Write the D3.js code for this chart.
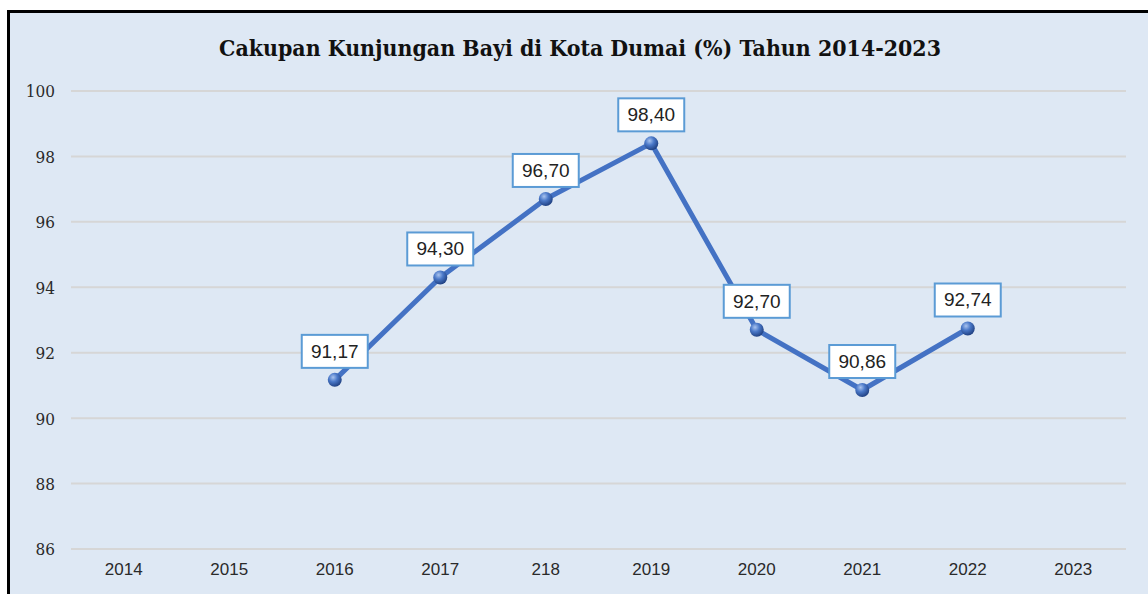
<!DOCTYPE html>
<html>
<head>
<meta charset="utf-8">
<script src="https://cdn.jsdelivr.net/npm/d3@7"></script>
<style>
  html, body { margin: 0; padding: 0; background: #ffffff; }
  svg { display: block; }
</style>
</head>
<body>
<svg id="chart" width="1148" height="594"></svg>
<script>
// Chart data
const years = ["2014", "2015", "2016", "2017", "218", "2019", "2020", "2021", "2022", "2023"];
const coverage = [null, null, 91.17, 94.30, 96.70, 98.40, 92.70, 90.86, 92.74, null];
const yTicks = [86, 88, 90, 92, 94, 96, 98, 100];
const title = "Cakupan Kunjungan Bayi di Kota Dumai (%) Tahun 2014-2023";

const W = 1148, H = 594;
const svg = d3.select("#chart");

// Gradient for the sphere-like markers
const defs = svg.append("defs");
const grad = defs.append("radialGradient")
  .attr("id", "ball").attr("cx", "38%").attr("cy", "32%").attr("r", "70%");
grad.append("stop").attr("offset", "0%").attr("stop-color", "#a9c3ee");
grad.append("stop").attr("offset", "45%").attr("stop-color", "#4a78c8");
grad.append("stop").attr("offset", "100%").attr("stop-color", "#1f3f80");

// Chart frame
svg.append("rect")
  .attr("x", 8.5).attr("y", 11.5)
  .attr("width", W + 20).attr("height", H + 20)
  .attr("fill", "#dee8f4")
  .attr("stroke", "#000").attr("stroke-width", 3);

svg.append("text")
  .attr("x", 580).attr("y", 56)
  .attr("text-anchor", "middle")
  .attr("font-family", "'DejaVu Serif Condensed', 'DejaVu Serif', serif")
  .attr("font-weight", "bold")
  .attr("font-size", 22)
  .attr("fill", "#111")
  .attr("textLength", 722)
  .attr("lengthAdjust", "spacingAndGlyphs")
  .text(title);

const plotLeft = 71, plotRight = 1126;
const x = d3.scaleBand().domain(years).range([plotLeft, plotRight]);
const y = d3.scaleLinear().domain([86, 100]).range([549, 91]);

// Gridlines
const grid = svg.append("g");
grid.selectAll("line").data(yTicks).join("line")
  .attr("x1", plotLeft).attr("x2", plotRight)
  .attr("y1", d => y(d)).attr("y2", d => y(d))
  .attr("stroke", "#d6d6d6").attr("stroke-width", 2);

// Y axis labels
const yAxis = svg.append("g")
  .attr("transform", `translate(${plotLeft - 16},0)`)
  .call(d3.axisLeft(y).tickValues(yTicks).tickSize(0).tickPadding(0));
yAxis.select(".domain").remove();
yAxis.selectAll("text")
  .attr("font-family", "'DejaVu Serif Condensed', 'DejaVu Serif', serif")
  .attr("font-size", 17)
  .attr("fill", "#2a2a2a")
  .attr("dy", "0.35em");

// X axis labels
const xAxis = svg.append("g")
  .attr("transform", `translate(0,${y(86) + 12})`)
  .call(d3.axisBottom(x).tickSize(0).tickPadding(0));
xAxis.select(".domain").remove();
xAxis.selectAll("text")
  .attr("font-family", "'Liberation Sans', Arial, sans-serif")
  .attr("font-size", 17)
  .attr("fill", "#2a2a2a")
  .attr("dy", "0.85em");

// Series
const pts = years.map((yr, i) => ({ yr, v: coverage[i] })).filter(d => d.v !== null);
const cx = d => x(d.yr) + x.bandwidth() / 2;

const line = d3.line().x(cx).y(d => y(d.v));
svg.append("path")
  .datum(pts)
  .attr("d", line)
  .attr("fill", "none")
  .attr("stroke", "#4472c4")
  .attr("stroke-width", 5)
  .attr("stroke-linejoin", "round");

svg.selectAll("circle.pt").data(pts).join("circle")
  .attr("class", "pt")
  .attr("cx", cx).attr("cy", d => y(d.v))
  .attr("r", 7)
  .attr("fill", "url(#ball)");

// Value labels
const fmt = v => v.toFixed(2).replace(".", ",");
const labels = svg.selectAll("g.lbl").data(pts).join("g")
  .attr("class", "lbl")
  .attr("transform", d => `translate(${cx(d)},${y(d.v) - 29})`);
labels.append("rect")
  .attr("x", -33).attr("y", -16)
  .attr("width", 66).attr("height", 33)
  .attr("fill", "#ffffff")
  .attr("stroke", "#5b9bd5").attr("stroke-width", 2);
labels.append("text")
  .attr("text-anchor", "middle")
  .attr("dy", "0.36em")
  .attr("font-family", "'Liberation Sans', Arial, sans-serif")
  .attr("font-size", 19)
  .attr("fill", "#222")
  .text(d => fmt(d.v));
</script>
</body>
</html>
